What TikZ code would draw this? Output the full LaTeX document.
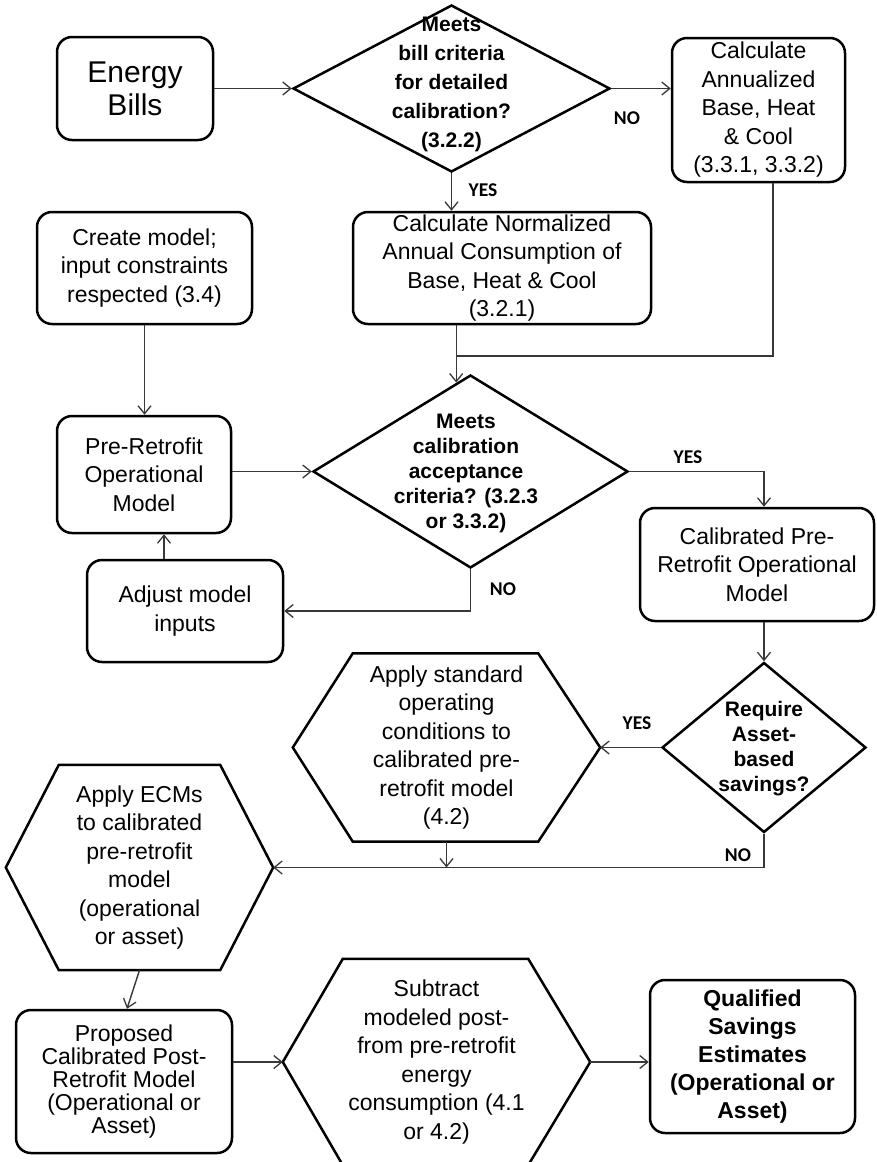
\documentclass[tikz,border=0pt]{standalone}
\usepackage{fontspec}
\setmainfont{Liberation Sans}
\newfontfamily\labfont{Carlito}
\usetikzlibrary{shapes.geometric,arrows.meta,calc}
\newcommand\rtxt{\fontsize{23}{28.5}\selectfont}
\newcommand\ptxt{\fontsize{23}{23}\selectfont}
\newcommand\etxt{\fontsize{30}{33}\selectfont}
\newcommand\dtxta{\fontsize{21}{29}\selectfont\bfseries}
\newcommand\dtxtb{\fontsize{21}{25}\selectfont\bfseries}
\newcommand\qtxt{\fontsize{23}{28}\selectfont\bfseries}
\tikzset{
  box/.style={draw=black, line width=2.5pt, rounded corners=15pt, align=center, inner sep=0pt, font=\rtxt},
  dia/.style={draw=black, line width=2.5pt, diamond, inner sep=0pt},
  hexbox/.style={draw=none, inner sep=0pt, align=center, font=\rtxt},
  hexline/.style={draw=black, line width=2.5pt, line join=miter},
  dtext/.style={align=center, inner sep=0pt},
  conn/.style={line width=1.4pt, draw=black!78, -{Straight Barb[length=8pt,width=13pt,line width=1.3pt]}},
  plain/.style={line width=1.4pt, draw=black!78},
  lab/.style={font=\labfont\bfseries\fontsize{19.5}{20}\selectfont, inner sep=0pt}
}
\begin{document}
\begin{tikzpicture}[x=1pt,y=-1pt]
\clip (0,0) rectangle (877,1162);
\fill[white] (0,0) rectangle (877,1162);

% rounded boxes
\node[box, font=\etxt, minimum width=156pt, minimum height=103pt] (energy) at (135,88.5) {Energy\\Bills};
\node[box, minimum width=173pt, minimum height=144pt] (annual) at (758.5,110) {Calculate\\Annualized\\Base, Heat\\\& Cool\\(3.3.1, 3.3.2)};
\node[box, minimum width=298pt, minimum height=112pt] (norm) at (502,268) {Calculate Normalized\\Annual Consumption of\\Base, Heat \& Cool\\(3.2.1)};
\node[box, minimum width=215pt, minimum height=112pt] (create) at (144.5,268) {Create model;\\input constraints\\respected (3.4)};
\node[box, minimum width=174pt, minimum height=117pt] (pre) at (144,474.5) {Pre-Retrofit\\Operational\\Model};
\node[box, minimum width=196pt, minimum height=102pt] (adjust) at (185,611) {Adjust model\\inputs};
\node[box, minimum width=234pt, minimum height=113pt] (cal) at (757,564.5) {Calibrated Pre-\\Retrofit Operational\\Model};
\node[box, font=\ptxt, minimum width=216pt, minimum height=143pt] (prop) at (124,1081.5) {Proposed\\Calibrated Post-\\Retrofit Model\\(Operational or\\Asset)};
\node[box, font=\qtxt, minimum width=205pt, minimum height=153pt] (qual) at (752.5,1056.5) {Qualified\\Savings\\Estimates\\(Operational or\\Asset)};

% diamonds
\node[dia, minimum width=317pt, minimum height=167pt] (d1) at (451.5,88.5) {};
\node[dtext, font=\dtxta] (d1t) at (451.5,84) {Meets\\bill criteria\\for detailed\\calibration?\\(3.2.2)};
\node[dia, minimum width=315pt, minimum height=193pt] (d2) at (470.5,471.5) {};
\node[dtext, font=\dtxtb] (d2t) at (466,473) {Meets\\calibration\\acceptance\\criteria? (3.2.3\\or 3.3.2)};
\node[dia, minimum width=204pt, minimum height=170pt] (d3) at (764,747.5) {};
\node[dtext, font=\dtxtb] (d3t) at (764,749) {Require\\Asset-\\based\\savings?};

% hexagons
\node[hexbox, minimum width=307pt, minimum height=188pt] (h1) at (446.5,747.5) {Apply standard\\operating\\conditions to\\calibrated pre-\\retrofit model\\(4.2)};
\draw[hexline] (h1.west) -- ([xshift=60pt]h1.north west) -- ([xshift=-62pt]h1.north east) -- (h1.east) -- ([xshift=-62pt]h1.south east) -- ([xshift=60pt]h1.south west) -- cycle;
\node[hexbox, minimum width=267pt, minimum height=205pt] (h2) at (139.5,867.5) {Apply ECMs\\to calibrated\\pre-retrofit\\model\\(operational\\or asset)};
\draw[hexline] (h2.west) -- ([xshift=53pt]h2.north west) -- ([xshift=-53pt]h2.north east) -- (h2.east) -- ([xshift=-53pt]h2.south east) -- ([xshift=53pt]h2.south west) -- cycle;
\node[hexbox, minimum width=307pt, minimum height=206pt] (h3) at (436.5,1062) {Subtract\\modeled post-\\from pre-retrofit\\energy\\consumption (4.1\\or 4.2)};
\draw[hexline] (h3.west) -- ([xshift=60pt]h3.north west) -- ([xshift=-62pt]h3.north east) -- (h3.east) -- ([xshift=-62pt]h3.south east) -- ([xshift=60pt]h3.south west) -- cycle;

% helper coordinates
\coordinate (d2in) at ($(d2.north)!0.09!(d2.west)$);
\coordinate (jn) at (d2in |- 0,356);

% connectors
\draw[conn] (energy.east) -- (d1.west);
\draw[conn] (d1.east) -- (d1.east -| annual.west);
\draw[conn] (d1.south) -- (d1.south |- norm.north);
\draw[plain] ([xshift=14.5pt]annual.south) |- (jn);
\draw[conn] (d2in |- norm.south) -- (d2in);
\draw[conn] (create.south) -- (create.south |- pre.north);
\draw[conn] (pre.east |- d2.west) -- (d2.west);
\draw[conn] (d2.east) -| (d3.north |- cal.north);
\draw[conn] (d2.south) |- (adjust.east);
\draw[conn] ([xshift=-21pt]adjust.north) -- ([xshift=-21pt]adjust.north |- pre.south);
\draw[conn] (d3.north |- cal.south) -- (d3.north);
\draw[conn] (d3.west) -- (h1.east);
\draw[conn] (d3.south) |- (h2.east);
\draw[conn] (h1.south) -- (h1.south |- h2.east);
\draw[conn] (h2.south) -- ([xshift=3pt]prop.north);
\draw[conn] (prop.east |- h3.west) -- (h3.west);
\draw[conn] (h3.east) -- (h3.east -| qual.west);

% labels
\node[lab] (l1) at (627,118) {NO};
\node[lab] (l2) at (483,190) {YES};
\node[lab] (l3) at (688,457) {YES};
\node[lab] (l4) at (503,589) {NO};
\node[lab] (l5) at (637,723) {YES};
\node[lab] (l6) at (738,855) {NO};
\end{tikzpicture}
\end{document}
